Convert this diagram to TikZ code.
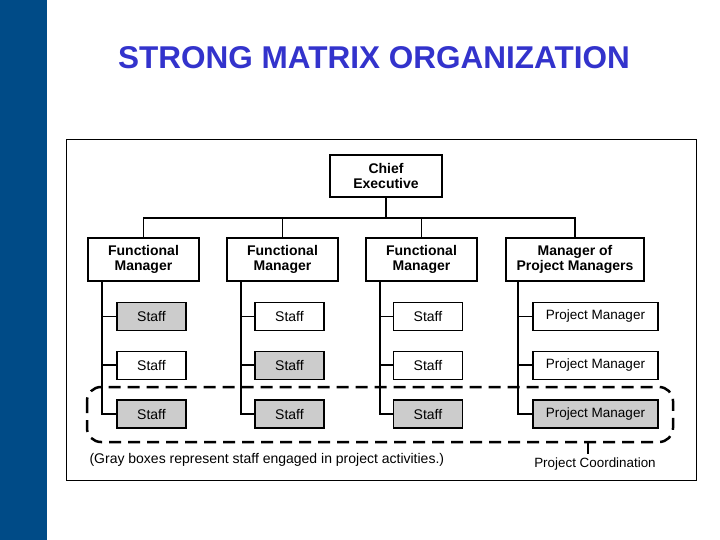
\documentclass[tikz,border=0pt]{standalone}
\usepackage{fontspec}
\setmainfont{Liberation Sans}
\usetikzlibrary{positioning}
\definecolor{barblue}{RGB}{0,75,135}
\definecolor{titleblue}{RGB}{51,51,204}
\definecolor{lgray}{gray}{0.8}

\begin{document}
\begin{tikzpicture}[x=1pt, y=-1pt,
		every node/.style={font=\fontsize{14}{15}\selectfont},
		mgr/.style={draw, line width=1.6pt, align=center, inner sep=0pt, minimum width=111pt, minimum height=43pt, font=\fontsize{14}{15}\selectfont\bfseries},
		staff/.style={draw, line width=1.3pt, inner sep=0pt, minimum width=69pt, minimum height=28pt},
		busy/.style={staff, fill=lgray},
		pm/.style={staff, minimum width=125pt, font=\fontsize{13.5}{15}\selectfont},
		conn/.style={line width=1.6pt},
		note/.style={font=\fontsize{13.4}{15}\selectfont}
	]
		\useasboundingbox (0,0) rectangle (720,540);
		\fill[barblue] (0,0) rectangle (47,540);
		\node[font=\fontsize{31.5}{33}\selectfont\bfseries, text=titleblue]
			(title) at (374,58)
			{STRONG MATRIX ORGANIZATION};
		\draw[line width=1pt] (66,140) rectangle (696,480);

		% managers
		\node[mgr, minimum width=112pt, minimum height=42pt]
			(chief) at (386,176)
			{Chief\\Executive};
		\node[mgr] (fm1) at (143.5,259.5) {Functional\\Manager};
		\node[mgr] (fm2) at (282.5,259.5) {Functional\\Manager};
		\node[mgr] (fm3) at (421.5,259.5) {Functional\\Manager};
		\node[mgr, minimum width=138pt] (mpm) at (575,259.5) {Manager of\\Project Managers};

		% staff
		\node[busy, below=20pt of fm1.south, xshift=8pt, anchor=north] (s11) {Staff};
		\node[staff, below=19.5pt of s11] (s12) {Staff};
		\node[busy, below=19.5pt of s12] (s13) {Staff};
		\node[staff, below=20pt of fm2.south, xshift=7pt, anchor=north] (s21) {Staff};
		\node[busy, below=19.5pt of s21] (s22) {Staff};
		\node[busy, below=19.5pt of s22] (s23) {Staff};
		\node[staff, below=20pt of fm3.south, xshift=6.5pt, anchor=north] (s31) {Staff};
		\node[staff, below=19.5pt of s31] (s32) {Staff};
		\node[busy, below=19.5pt of s32] (s33) {Staff};
		\node[pm, below=20pt of mpm.south, xshift=20.5pt, anchor=north] (p1) {Project Manager};
		\node[pm, below=19.5pt of p1] (p2) {Project Manager};
		\node[pm, fill=lgray, below=19.5pt of p2] (p3) {Project Manager};

		% lines
		\coordinate (bus) at (386,218);
		\draw[conn] (chief.south) -- (bus);
		\draw[conn] (fm1.north) |- (bus) -| (mpm.north);
		\draw[conn] (fm2.north) -- (fm2.north |- bus);
		\draw[conn] (fm3.north) -- (fm3.north |- bus);

		\coordinate (t1) at ([xshift=15pt]fm1.south west);
		\coordinate (t2) at ([xshift=15pt]fm2.south west);
		\coordinate (t3) at ([xshift=15pt]fm3.south west);
		\coordinate (t4) at ([xshift=13pt]mpm.south west);
		\draw[conn] (t1) |- (s13.west);
		\draw[conn] (s11.west) -- (s11.west -| t1);
		\draw[conn] (s12.west) -- (s12.west -| t1);
		\draw[conn] (t2) |- (s23.west);
		\draw[conn] (s21.west) -- (s21.west -| t2);
		\draw[conn] (s22.west) -- (s22.west -| t2);
		\draw[conn] (t3) |- (s33.west);
		\draw[conn] (s31.west) -- (s31.west -| t3);
		\draw[conn] (s32.west) -- (s32.west -| t3);
		\draw[conn] (t4) |- (p3.west);
		\draw[conn] (p1.west) -- (p1.west -| t4);
		\draw[conn] (p2.west) -- (p2.west -| t4);

		% project coordination
		\draw[line width=2.5pt, dash pattern=on 12pt off 7pt, rounded corners=14pt]
			(87,387) rectangle (673,442);
		\node[note, font=\fontsize{14}{15}\selectfont, anchor=west] (gray) at (86,460) {(Gray boxes represent staff engaged in project activities.)};
		\node[note] (pc) at (595,464) {Project Coordination};
		\coordinate (pctop) at (588,442);
		\draw[line width=1.2pt] (pctop) -- (pctop |- pc.north);
	\end{tikzpicture}
\end{document}
